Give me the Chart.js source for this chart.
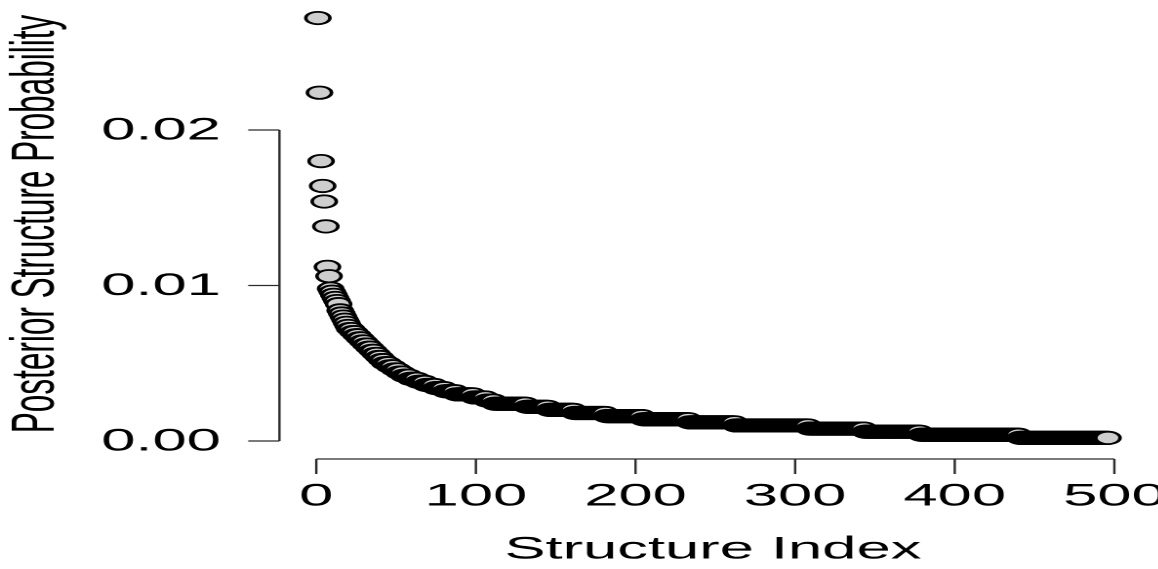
<!DOCTYPE html>
<html>
<head>
<meta charset="utf-8">
<script src="https://cdn.jsdelivr.net/npm/chart.js@4"></script>
<style>
html, body { margin: 0; padding: 0; background: #fff; overflow: hidden; }
#wrap { position: absolute; left: 0; top: 0; height: 569px; transform-origin: 0 0; }
</style>
</head>
<body>
<div id="wrap"><canvas id="chart"></canvas></div>
<script>
// the picture is an R plot stretched sideways, so draw narrow and stretch the box
var STRETCH = 1.95;
var PAGE_W = 1158, PAGE_H = 569;

// first structures, one by one
var topProbs = [0.0272, 0.0224, 0.0180, 0.0164, 0.0154, 0.0138, 0.0112, 0.0106, 0.0098, 0.0096,
                0.0094, 0.0092, 0.0090, 0.0088, 0.0084, 0.0082, 0.0080, 0.0078, 0.0076, 0.0074];
// then the plateaus: probability level and how many structures sit on it
var levelProbs = [0.0072, 0.0070, 0.0068, 0.0066, 0.0064, 0.0062, 0.0060, 0.0058, 0.0056, 0.0054,
                  0.0052, 0.0050, 0.0048, 0.0046, 0.0044, 0.0042, 0.0040, 0.0038, 0.0036, 0.0034,
                  0.0032, 0.0030, 0.0028, 0.0026, 0.0024, 0.0022, 0.0020, 0.0018, 0.0016, 0.0014,
                  0.0012, 0.0010, 0.0008, 0.0006, 0.0004, 0.0002];
var levelCounts = [2, 2, 2, 2, 2, 2, 2, 2, 2, 2,
                   2, 3, 3, 3, 3, 4, 5, 5, 6, 6,
                   7, 11, 8, 5, 20, 14, 16, 20, 23, 29,
                   29, 46, 35, 35, 62, 56];

var xTicks = [0, 100, 200, 300, 400, 500];
var yTicks = [0, 0.01, 0.02];
var yTickLabels = ['0.00', '0.01', '0.02'];
var xTitle = 'Structure Index';
var yTitle = 'Posterior Structure Probability';

var FONT = '31.5px "Liberation Sans", Arial, Helvetica, sans-serif';

var probs = topProbs.slice();
for (var k = 0; k < levelProbs.length; k++) {
    for (var j = 0; j < levelCounts[k]; j++) {
        probs.push(levelProbs[k]);
    }
}
var points = probs.map(function (p, i) {
    return {x: i + 1, y: p};
});

var boxW = PAGE_W / STRETCH;
var wrap = document.getElementById('wrap');
wrap.style.width = boxW + 'px';
wrap.style.transform = 'scaleX(' + STRETCH + ')';

var rAxes = {
    id: 'rAxes',
    beforeDatasetsDraw: function (chart) {
        var ctx = chart.ctx;
        var xs = chart.scales.x, ys = chart.scales.y, area = chart.chartArea;
        ctx.save();
        ctx.strokeStyle = '#2b2b2b';
        ctx.fillStyle = '#000';
        ctx.lineWidth = 1.2;
        ctx.font = FONT;

        // x axis, R style: line only between first and last tick
        var ax = area.bottom + 4.3;
        ctx.beginPath();
        ctx.moveTo(xs.getPixelForValue(xTicks[0]), ax);
        ctx.lineTo(xs.getPixelForValue(xTicks[xTicks.length - 1]), ax);
        xTicks.forEach(function (t) {
            var px = xs.getPixelForValue(t);
            ctx.moveTo(px, ax);
            ctx.lineTo(px, ax + 15);
        });
        ctx.stroke();
        ctx.textAlign = 'center';
        ctx.textBaseline = 'middle';
        xTicks.forEach(function (t) {
            ctx.fillText(String(t), xs.getPixelForValue(t), 497);
        });
        ctx.fillText(xTitle, (area.left + area.right) / 2, 550);

        // y axis
        var ay = area.left - 3.5;
        ctx.beginPath();
        ctx.moveTo(ay, ys.getPixelForValue(yTicks[0]));
        ctx.lineTo(ay, ys.getPixelForValue(yTicks[yTicks.length - 1]));
        yTicks.forEach(function (t) {
            var py = ys.getPixelForValue(t);
            ctx.moveTo(ay, py);
            ctx.lineTo(ay - 16, py);
        });
        ctx.stroke();
        ctx.textAlign = 'right';
        yTicks.forEach(function (t, i) {
            ctx.fillText(yTickLabels[i], ay - 30, ys.getPixelForValue(t) + 1);
        });

        ctx.translate(19, 224);
        ctx.rotate(-Math.PI / 2);
        ctx.textAlign = 'center';
        ctx.fillText(yTitle, 0, 0);
        ctx.restore();
    }
};

// plot region in narrow coordinates
var xLeft = 316 / STRETCH, xRight = 1113.5 / STRETCH;
var xMin = -18.8, xMax = 515.8;
var pxPerX = (xRight - xLeft) / 500;
var areaLeft = xLeft + xMin * pxPerX;
var areaRight = xRight + (xMax - 500) * pxPerX;
var yMin = -0.00088, yMax = 0.02828;
var pxPerY = (441 - 130) / 0.02;
var areaTop = 441 - yMax * pxPerY;
var areaBottom = 441 - yMin * pxPerY;

var ctx = document.getElementById('chart').getContext('2d');
var chart = new Chart(ctx, {
    type: 'scatter',
    data: {
        datasets: [{
            data: points,
            backgroundColor: 'rgb(206, 206, 206)',
            borderColor: '#000',
            borderWidth: 1.8,
            pointRadius: 6.2,
            pointHoverRadius: 6.2,
            clip: false
        }]
    },
    options: {
        responsive: true,
        maintainAspectRatio: false,
        animation: false,
        devicePixelRatio: 2,
        layout: {
            autoPadding: false,
            padding: {
                left: areaLeft,
                right: boxW - areaRight,
                top: areaTop,
                bottom: PAGE_H - areaBottom
            }
        },
        scales: {
            x: {type: 'linear', min: xMin, max: xMax, display: false},
            y: {type: 'linear', min: yMin, max: yMax, display: false}
        },
        plugins: {
            legend: {display: false},
            tooltip: {enabled: false}
        }
    },
    plugins: [rAxes]
});
</script>
</body>
</html>
